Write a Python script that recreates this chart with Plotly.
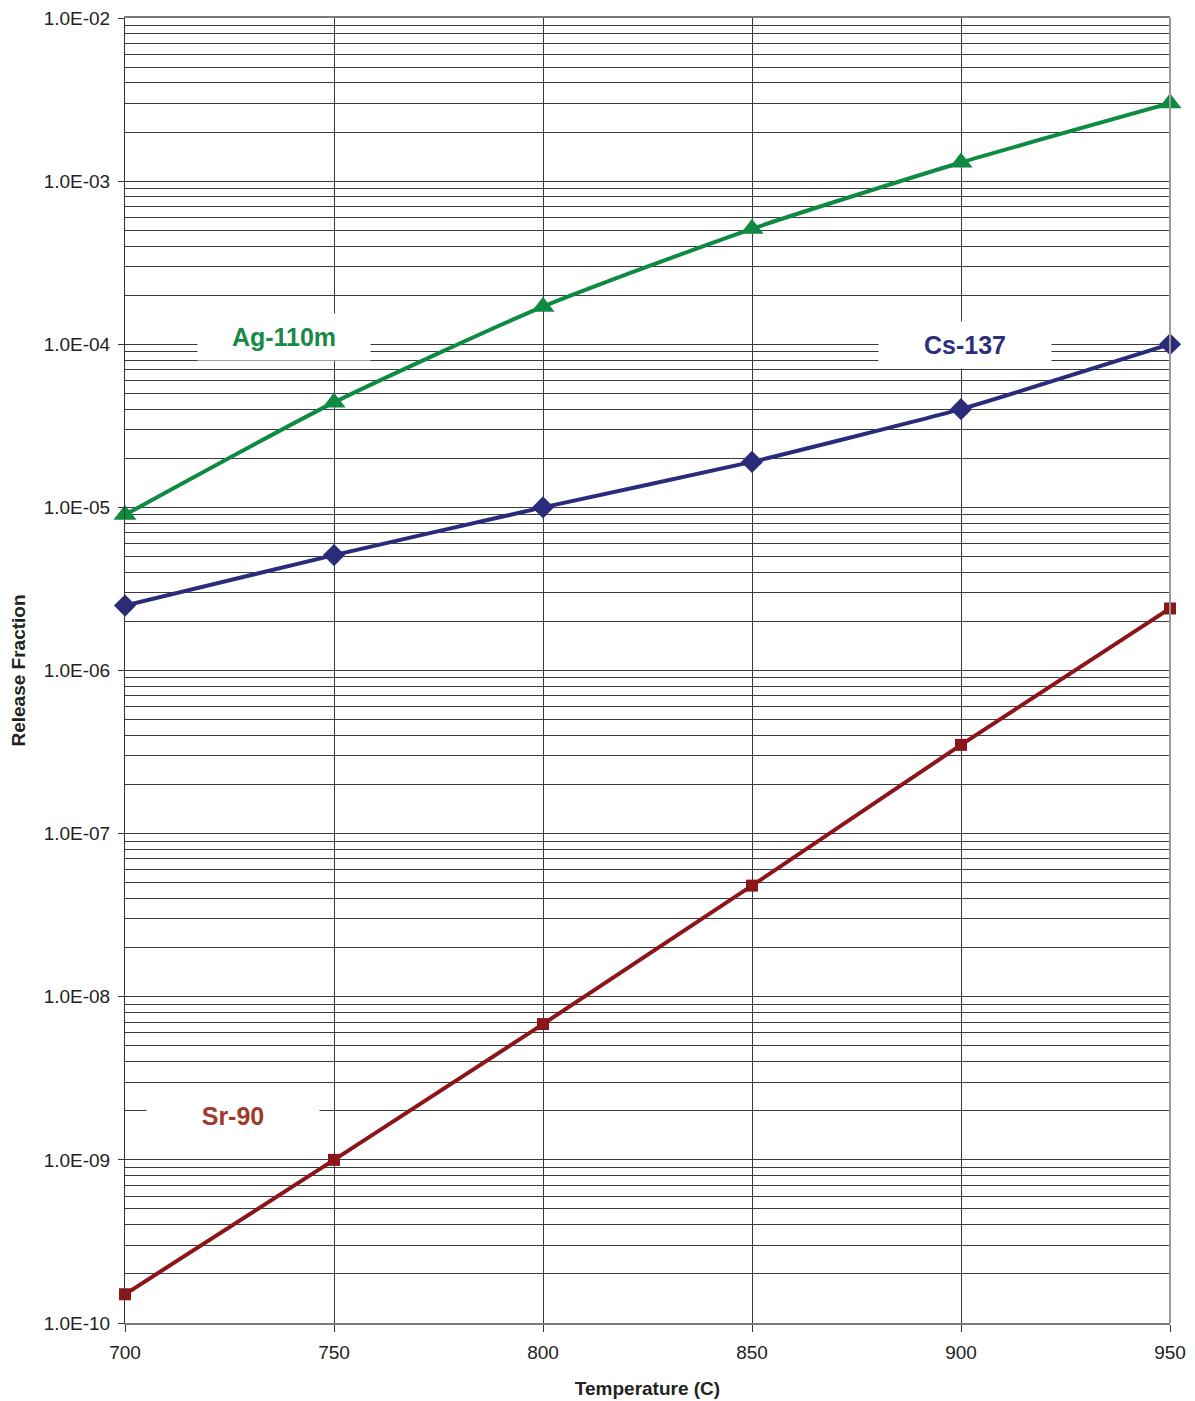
import numpy as np
import plotly.graph_objects as go

# Release fractions vs. temperature for three fission products
temperature = [700, 750, 800, 850, 900, 950]
ag110m = [9.0e-6, 4.4e-5, 1.7e-4, 5.1e-4, 1.3e-3, 3.0e-3]
cs137 = [2.5e-6, 5.1e-6, 1.0e-5, 1.9e-5, 4.0e-5, 1.0e-4]
sr90 = [1.5e-10, 1.0e-9, 6.8e-9, 4.8e-8, 3.5e-7, 2.4e-6]

x_ticks = [700, 750, 800, 850, 900, 950]
y_exponents = [-10, -9, -8, -7, -6, -5, -4, -3, -2]
y_ticks = [10.0 ** e for e in y_exponents]
y_ticktext = ["1.0E-%02d" % (-e) for e in y_exponents]
y_minor = [m * 10.0 ** e for e in y_exponents[:-1] for m in range(2, 10)]

GREEN = "#0e8a42"
NAVY = "#2b2b7c"
RED = "#8b1518"
FONT = "Liberation Sans, Arial, sans-serif"

fig = go.Figure()

fig.add_trace(go.Scatter(
    x=temperature, y=ag110m, mode="lines+markers", name="Ag-110m",
    line=dict(color=GREEN, width=4, shape="spline", smoothing=0.6),
    marker=dict(symbol="triangle-up", size=20, color=GREEN),
    cliponaxis=False,
))
fig.add_trace(go.Scatter(
    x=temperature, y=cs137, mode="lines+markers", name="Cs-137",
    line=dict(color=NAVY, width=4, shape="spline", smoothing=0.4),
    marker=dict(symbol="diamond", size=17, color=NAVY),
    cliponaxis=False,
))
fig.add_trace(go.Scatter(
    x=temperature, y=sr90, mode="lines+markers", name="Sr-90",
    line=dict(color=RED, width=4),
    marker=dict(symbol="square", size=12, color=RED),
    cliponaxis=False,
))

# Series labels sit on white boxes that hide the grid behind them
labels = [
    ("Ag-110m", 738, -3.953, "#178a45"),
    ("Cs-137", 901, -4.003, "#2c2f7c"),
    ("Sr-90", 725.8, -8.73, "#a13a2c"),
]
for text, lx, ly, col in labels:
    fig.add_annotation(
        x=lx, y=ly, xref="x", yref="y", text="<b>%s</b>" % text,
        showarrow=False, bgcolor="white", width=170, height=44,
        font=dict(family=FONT, size=25, color=col),
    )

# Right-hand border of the plotting area
fig.add_shape(type="line", xref="paper", yref="paper", x0=1, x1=1, y0=0, y1=1,
              line=dict(color="#9a9a9a", width=2))

fig.update_layout(
    width=1195, height=1401,
    margin=dict(l=125, r=25, t=18, b=78, autoexpand=False),
    paper_bgcolor="white", plot_bgcolor="white",
    showlegend=False,
    font=dict(family=FONT, size=19, color="#222222"),
    xaxis=dict(
        range=[700, 950], tickvals=x_ticks, ticktext=[str(v) for v in x_ticks],
        tickfont=dict(family=FONT, size=19, color="#222222"),
        ticklabelstandoff=4, automargin=False,
        showgrid=True, gridcolor="#3a3a3a", gridwidth=1,
        showline=True, linecolor="#7a7a7a", linewidth=2, mirror=True,
        ticks="outside", ticklen=7, tickcolor="#333333",
        zeroline=False,
        title=dict(text="<b>Temperature (C)</b>",
                   font=dict(family=FONT, size=19, color="#222222"), standoff=20),
    ),
    yaxis=dict(
        type="log", range=[-10, -2], tickvals=y_ticks, ticktext=y_ticktext,
        tickfont=dict(family=FONT, size=19, color="#222222"),
        ticklabelstandoff=4, automargin=False,
        showgrid=True, gridcolor="#3a3a3a", gridwidth=1,
        showline=True, linecolor="#333333", linewidth=1,
        ticks="outside", ticklen=6, tickcolor="#333333",
        minor=dict(tickvals=y_minor, showgrid=True, gridcolor="#3a3a3a", gridwidth=1, ticks=""),
        zeroline=False,
        title=dict(text="<b>Release Fraction</b>",
                   font=dict(family=FONT, size=19, color="#222222"), standoff=13),
    ),
)

fig.write_html("out.html")
